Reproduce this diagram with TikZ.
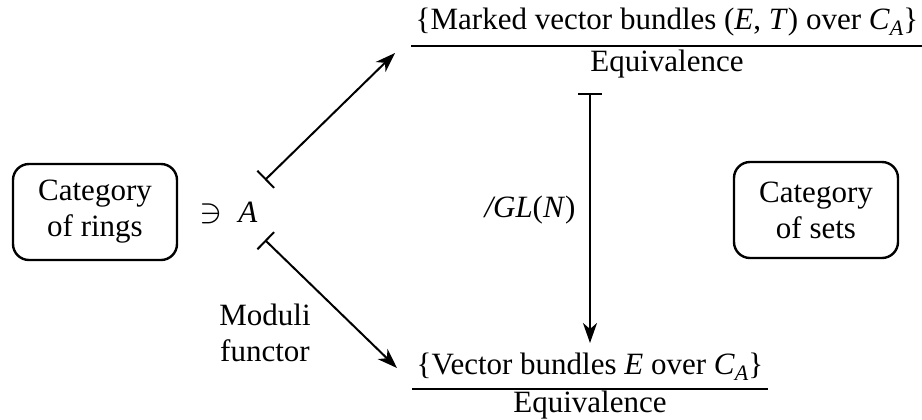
\documentclass[tikz,border=0pt]{standalone}
\usepackage{fontspec}
\setmainfont{Liberation Serif}
\usetikzlibrary{arrows.meta,positioning}
\newcommand{\CsubA}{\textit{C}\raisebox{-0.45ex}{\fontsize{11}{11}\selectfont\textit{A}}}
\tikzset{
  >={Stealth[length=10pt,width=7pt,inset=3pt]},
  catbox/.style={draw,rounded corners=8pt,line width=1.2pt,minimum width=82pt,
    minimum height=48pt,align=center,inner sep=0pt},
  quot/.style={anchor=base,inner xsep=2pt,inner ysep=0pt},
  mapsto/.style={{Bar[width=12pt]}->,line width=1pt},
  frac bar/.style={line width=1pt},
}
\begin{document}
\begin{tikzpicture}[x=0.5pt,y=-0.5pt,font=\fontsize{15.5}{18}\selectfont]
  \useasboundingbox (0,0) rectangle (922,419);
  % categories
  \node[catbox] (rings) at (95,212) {Category\\of rings};
  \node[catbox] (sets) at (816,210) {Category\\of sets};
  \node[anchor=base] (ni) at (211,222) {\fontsize{17}{17}\selectfont$\ni$};
  \node[anchor=base] (A) at (248,222) {\textit{A}};
  % quotients
  \node[quot] (mark) at (667,29) {\{Marked vector bundles (\textit{E}, \textit{T}) over \CsubA\}};
  \node[quot] (markeq) at ([yshift=-21pt]mark.base) {Equivalence};
  \draw[frac bar] ([yshift=-8.5pt]mark.base west) -- ([yshift=-8.5pt]mark.base east);
  \node[quot] (vect) at (590,374) {\{Vector bundles \textit{E} over \CsubA\}};
  \node[quot] (vecteq) at ([yshift=-19pt]vect.base) {Equivalence};
  \draw[frac bar] ([yshift=-7.5pt]vect.base west) -- ([yshift=-7.5pt]vect.base east);
  % maps
  \coordinate (up-s) at (265,180);
  \coordinate (up-e) at (395,53);
  \coordinate (dn-s) at (265,240);
  \coordinate (dn-e) at (397,368);
  \coordinate (gl-s) at (590,93);
  \coordinate (gl-e) at (590,343);
  \draw[mapsto] (up-s) -- (up-e);
  \draw[mapsto] (dn-s) -- (dn-e);
  \draw[mapsto] (gl-s) -- (gl-e);
  \node (gl) at (530,210) {\textit{/GL}(\textit{N})};
  \node[align=center] (moduli) at (265,333) {Moduli\\functor};
\end{tikzpicture}
\end{document}
